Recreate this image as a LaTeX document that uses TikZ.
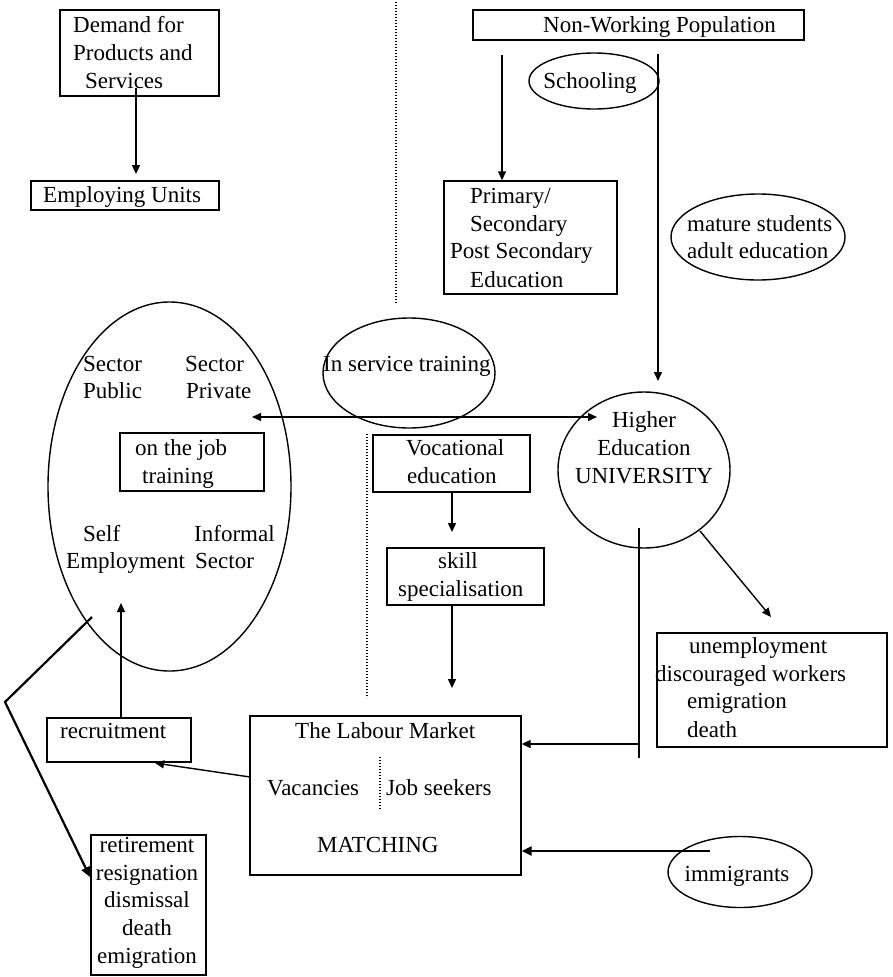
\documentclass[tikz,border=0pt]{standalone}
\usepackage{fontspec}
\setmainfont{Liberation Serif}
\usetikzlibrary{shapes.geometric,arrows.meta}
\tikzset{
  box/.style={draw, line width=1.4pt, rectangle, inner sep=0pt},
  ell/.style={draw, line width=1.4pt, ellipse, inner sep=0pt},
  t/.style={anchor=base west, inner sep=0pt},
  tc/.style={anchor=base, inner sep=0pt},
  arr/.style={line width=1.4pt, -{Triangle[length=9pt,width=8pt]}},
  dbl/.style={line width=1.4pt, {Triangle[length=9pt,width=8pt]}-{Triangle[length=9pt,width=8pt]}},
  dots/.style={line width=1.6pt, dash pattern=on 1.4pt off 1.6pt},
  plain/.style={line width=1.4pt}
}
\begin{document}
\begin{tikzpicture}[x=1pt,y=-1pt,font=\fontsize{23}{28}\selectfont]
\useasboundingbox (0,0) rectangle (893,977);

% ---- boxes ----
\node[box, minimum width=159pt, minimum height=86pt] (demand) at (139.5,53) {};
\node[box, minimum width=188pt, minimum height=29pt] (employ) at (125,195.5) {};
\node[box, minimum width=331pt, minimum height=30pt] (nwp) at (638.5,25) {};
\node[box, minimum width=173pt, minimum height=113pt] (prim) at (530.5,237.5) {};
\node[box, minimum width=144pt, minimum height=58pt] (ojt) at (192,462) {};
\node[box, minimum width=157pt, minimum height=57pt] (voc) at (451.5,463.5) {};
\node[box, minimum width=157pt, minimum height=57pt] (skill) at (465.5,576.5) {};
\node[box, minimum width=230pt, minimum height=114pt] (unemp) at (772,690) {};
\node[box, minimum width=271pt, minimum height=159pt] (lm) at (385.5,795.5) {};
\node[box, minimum width=144pt, minimum height=44pt] (recr) at (119,740) {};
\node[box, minimum width=115pt, minimum height=140pt] (ret) at (148.5,905) {};

% ---- ellipses ----
\node[ell, minimum width=130pt, minimum height=56pt] (school) at (594,81) {};
\node[ell, minimum width=174pt, minimum height=86pt] (mature) at (758,237) {};
\node[ell, minimum width=243pt, minimum height=369pt] (emp) at (169.5,486.5) {};
\node[ell, minimum width=172pt, minimum height=110pt] (inserv) at (409,373) {};
\node[ell, minimum width=172pt, minimum height=156pt] (he) at (644,470) {};
\node[ell, minimum width=144pt, minimum height=71pt] (immig) at (740,872) {};

% ---- texts ----
\node[t] (tdem1) at (73,32) {Demand for};
\node[t] (tdem2) at (73,60) {Products and};
\node[t] (tdem3) at (85,88) {Services};
\node[t] (temp) at (43,202) {Employing Units};
\node[t] (tnwp) at (543,32) {Non-Working Population};
\node[tc] (tsch) at (590,88) {Schooling};
\node[t] (tpr1) at (470,203) {Primary/};
\node[t] (tpr2) at (470,231) {Secondary};
\node[t] (tpr3) at (450,258) {Post Secondary};
\node[t] (tpr4) at (470,287) {Education};
\node[t] (tmat1) at (687,231) {mature students};
\node[t] (tmat2) at (687,258) {adult education};
\node[t] (tsp1) at (83,371) {Sector};
\node[t] (tsp2) at (83,398) {Public};
\node[t] (tspr1) at (185,371) {Sector};
\node[t] (tspr2) at (186,398) {Private};
\node[t] (tojt1) at (135,455) {on the job};
\node[t] (tojt2) at (142,483) {training};
\node[t] (tself1) at (83,541) {Self};
\node[t] (tself2) at (66,568) {Employment};
\node[t] (tinf1) at (194,541) {Informal};
\node[t] (tinf2) at (195,568) {Sector};
\node[t] (tins) at (323,371) {In service training};
\node[t] (tvoc1) at (406,455) {Vocational};
\node[t] (tvoc2) at (407,483) {education};
\node[t] (tsk1) at (438,568) {skill};
\node[t] (tsk2) at (398,596) {specialisation};
\node[tc] (the1) at (644,427) {Higher};
\node[tc] (the2) at (644,455) {Education};
\node[tc] (the3) at (644,483) {UNIVERSITY};
\node[t] (tun1) at (689,653) {unemployment};
\node[t] (tun2) at (655,681) {discouraged workers};
\node[t] (tun3) at (687,708) {emigration};
\node[t] (tun4) at (687,737) {death};
\node[t] (tlm1) at (295,738) {The Labour Market};
\node[t] (tlm2) at (267,795) {Vacancies};
\node[t] (tlm3) at (386,795) {Job seekers};
\node[t] (tlm4) at (317,852) {MATCHING};
\node[t] (trec) at (60,738) {recruitment};
\node[tc] (tret1) at (147,852) {retirement};
\node[tc] (tret2) at (147,880) {resignation};
\node[tc] (tret3) at (147,907) {dismissal};
\node[tc] (tret4) at (147,935) {death};
\node[tc] (tret5) at (147,963) {emigration};
\node[tc] (timm) at (737,881) {immigrants};

% ---- coordinates ----
\coordinate (d1a) at (396,2);
\coordinate (d1b) at (396,303);
\coordinate (d2a) at (367,434);
\coordinate (d2b) at (367,698);
\coordinate (d3a) at (380,757);
\coordinate (d3b) at (380,810);
\coordinate (a1) at (136,88);
\coordinate (a2) at (136,174);
\coordinate (n1) at (502,55);
\coordinate (n2) at (658,54);
\coordinate (n3) at (658,381);
\coordinate (h1) at (252,417);
\coordinate (h2) at (597,417);
\coordinate (u1) at (639,528);
\coordinate (u2) at (639,758);
\coordinate (u3) at (639,744);
\coordinate (g1) at (700,531);
\coordinate (g2) at (771,617);
\coordinate (l1) at (250,777);
\coordinate (l2) at (155,763);
\coordinate (r1) at (121,603);
\coordinate (p1) at (92,617);
\coordinate (p2) at (5,702);
\coordinate (p3) at (90,877);
\coordinate (i1) at (710,851);
\coordinate (v1) at (452,492);
\coordinate (v2) at (452,532);
\coordinate (v3) at (452,605);
\coordinate (v4) at (452,688);

% ---- dotted separators ----
\draw[dots] (d1a) -- (d1b);
\draw[dots] (d2a) -- (d2b);
\draw[dots] (d3a) -- (d3b);

% ---- connectors ----
\draw[arr] (a1) -- (a2);
\draw[arr] (n1) -- (n1 |- prim.north);
\draw[arr] (n2) -- (n3);
\draw[dbl] (h1) -- (h2);
\draw[arr] (v1) -- (v2);
\draw[arr] (v3) -- (v4);
\draw[plain] (u1) -- (u2);
\draw[arr] (u3) -- (u3 -| lm.east);
\draw[arr] (g1) -- (g2);
\draw[arr] (l1) -- (l2);
\draw[arr] (r1 |- recr.north) -- (r1);
\draw[line width=2.2pt, -{Triangle[length=10pt,width=9pt]}] (p1) -- (p2) -- (p3);
\draw[line width=2.4pt, -{Triangle[length=10pt,width=9pt]}] (i1) -- (i1 -| lm.east);
\end{tikzpicture}
\end{document}
